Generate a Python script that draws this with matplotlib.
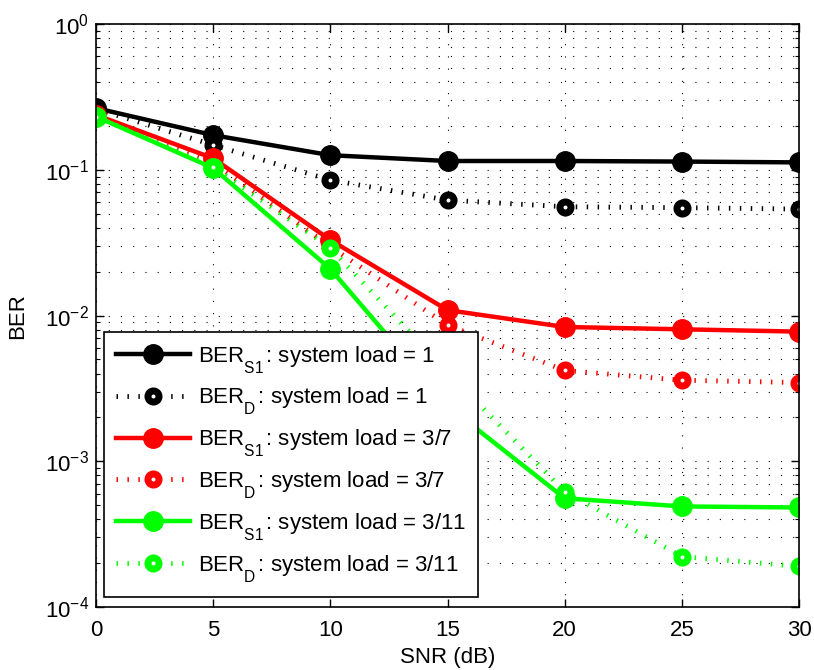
import numpy as np
import matplotlib
matplotlib.use('Agg')
import matplotlib.pyplot as plt
from matplotlib.mathtext import MathTextParser

plt.rcParams['font.family'] = ['Liberation Sans', 'DejaVu Sans']
plt.rcParams['mathtext.fontset'] = 'custom'
plt.rcParams['mathtext.rm'] = 'Liberation Sans'
plt.rcParams['mathtext.it'] = 'Liberation Sans:italic'
plt.rcParams['mathtext.default'] = 'regular'

## data
snr = [0, 5, 10, 15, 20, 25, 30]
ber_s1_load1 = [0.265, 0.173, 0.126, 0.115, 0.115, 0.114, 0.1125]
ber_d_load1 = [0.262, 0.148, 0.085, 0.062, 0.0558, 0.055, 0.0538]
ber_s1_load37 = [0.238, 0.12, 0.033, 0.0109, 0.00835, 0.00805, 0.00776]
ber_d_load37 = [0.236, 0.112, 0.0297, 0.0086, 0.0042, 0.0036, 0.00347]
ber_s1_load311 = [0.232, 0.1028, 0.0209, 0.0024, 0.000558, 0.00049, 0.000482]
ber_d_load311 = [0.232, 0.105, 0.029, 0.0041, 0.00062, 0.000222, 0.00019]

subs = ['S1', 'D', 'S1', 'D', 'S1', 'D']
loads = ['1', '1', '3/7', '3/7', '3/11', '3/11']
colors = ['k', 'k', '#ff0000', '#ff0000', '#00ff00', '#00ff00']
series = [ber_s1_load1, ber_d_load1, ber_s1_load37, ber_d_load37,
          ber_s1_load311, ber_d_load311]


def sublabel(sub, load):
    # matlab puts the subscript quite low, a zero-rule fraction pushes it down
    s = r'BER$_{\genfrac{}{}{0}{0}{\ }{\mathrm{%s}}}$: system load = %s' % (sub, load)
    try:
        MathTextParser('path').parse(s, 72)
        return s
    except Exception:
        return r'BER$_{\mathrm{%s}}$: system load = %s' % (sub, load)


FS = 16
fig = plt.figure(figsize=(8.14, 6.7), dpi=100)
ax = fig.add_axes([0.118, 0.094, 0.8636, 0.870])

for i in range(len(series)):
    lab = sublabel(subs[i], loads[i])
    if subs[i] == 'S1':
        ax.semilogy(snr, series[i], '-', color=colors[i], lw=3.2, marker='o',
                    ms=14, mfc=colors[i], mec=colors[i], label=lab)
    else:
        ax.semilogy(snr, series[i], color=colors[i], lw=3.5, ls=(0, (0.3, 1.95)),
                    dash_capstyle='butt', marker='o', ms=8, mew=5,
                    mfc='white', mec=colors[i], label=lab)

ax.set_xlim(0, 30)
ax.set_ylim(1e-4, 1)
ax.set_xticks(range(0, 31, 5))
ax.set_xlabel('SNR (dB)', fontsize=FS, labelpad=5)
ax.set_ylabel('BER', fontsize=FS, labelpad=12)
ax.tick_params(which='both', direction='in', top=True, right=True, labelsize=FS)
ax.tick_params(which='major', length=6, width=1)
ax.tick_params(which='minor', length=3, width=0.8)
ax.tick_params(axis='x', pad=9)
ax.tick_params(axis='y', pad=5)
for s in ax.spines.values():
    s.set_linewidth(1.2)

gridstyle = (0, (1, 10))
ax.grid(True, which='major', axis='both', color='k', ls=gridstyle, lw=0.8)
ax.grid(True, which='minor', axis='y', color='k', ls=gridstyle, lw=0.8)

leg = ax.legend(loc='lower left', bbox_to_anchor=(0.0114, 0.0172), fontsize=FS,
                handlelength=3.3, labelspacing=0.45, borderpad=0.55,
                handletextpad=0.36, fancybox=False, framealpha=1,
                edgecolor='k', borderaxespad=0)
leg.get_frame().set_linewidth(1.2)

plt.savefig('out.png', dpi=100)
